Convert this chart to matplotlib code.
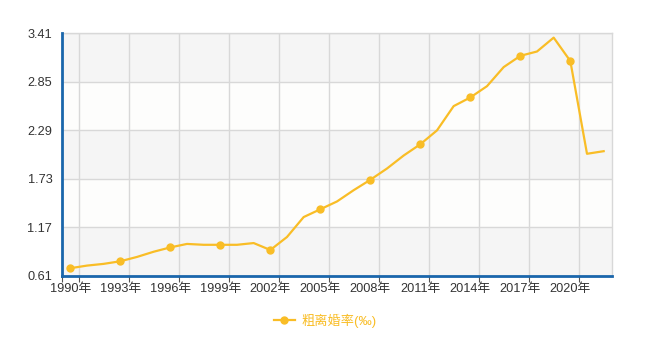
import matplotlib
matplotlib.use('Agg')
import matplotlib.pyplot as plt
import numpy as np

years = list(range(1990, 2023))
rate = [0.70, 0.73, 0.75, 0.78, 0.83, 0.89, 0.94, 0.98, 0.97, 0.97, 0.97,
        0.99, 0.91, 1.06, 1.29, 1.38, 1.47, 1.60, 1.72, 1.85, 2.00, 2.13,
        2.29, 2.57, 2.67, 2.80, 3.02, 3.15, 3.20, 3.36, 3.09, 2.02, 2.05]
yticks = [0.61, 1.17, 1.73, 2.29, 2.85, 3.41]
series_name = '粗离婚率(‰)'

plt.rcParams['font.family'] = ['Liberation Sans', 'Noto Sans CJK SC', 'DejaVu Sans']

line_c = '#f9bd26'
axis_c = '#1a66ab'
grid_c = '#d8d8d8'

fig = plt.figure(figsize=(6.47, 3.53), dpi=100)
ax = fig.add_axes([62/647, 1-276/353, 550/647, (276-33.3)/353])

# alternating horizontal bands
for i in range(len(yticks)-1):
    ax.axhspan(yticks[i], yticks[i+1], color='#f5f5f5' if i % 2 == 0 else '#fdfdfc',
               zorder=0, lw=0)

x = np.arange(len(years))
ax.plot(x, rate, color=line_c, lw=1.6, marker='o', ms=5, markevery=3,
        zorder=3, label=series_name)

ax.set_xlim(-0.5, len(years)-0.5)
ax.set_ylim(yticks[0], yticks[-1])

lab_idx = list(range(0, len(years), 3))
ax.set_xticks(lab_idx)
ax.set_xticklabels([f'{years[i]}年' for i in lab_idx], fontsize=9.2, color='#333333')
ax.tick_params(axis='x', which='major', length=0, pad=5)
bounds = [-0.5] + [i + 0.5 for i in lab_idx]
ax.set_xticks(bounds, minor=True)
ax.tick_params(axis='x', which='minor', length=4, color='#555555', width=0.8)
for b in bounds[1:]:
    ax.axvline(b, color=grid_c, lw=1, zorder=1)

ax.set_yticks(yticks)
ax.set_yticklabels([f'{v:.2f}' for v in yticks], fontsize=9.2, color='#333333')
ax.tick_params(axis='y', length=0, pad=7)
for v in yticks[1:]:
    ax.axhline(v, color=grid_c, lw=1, zorder=1)

for s in ['top', 'right']:
    ax.spines[s].set_color(grid_c)
    ax.spines[s].set_linewidth(1)
for s in ['left', 'bottom']:
    ax.spines[s].set_color(axis_c)
    ax.spines[s].set_linewidth(2)
    ax.spines[s].set_zorder(4)

leg = fig.legend(loc='center', bbox_to_anchor=(325/647, 1-321/353), frameon=False,
                 fontsize=9.5, handlelength=1.6, handletextpad=0.5)
for t in leg.get_texts():
    t.set_color(line_c)

fig.savefig('out.png', dpi=100)
